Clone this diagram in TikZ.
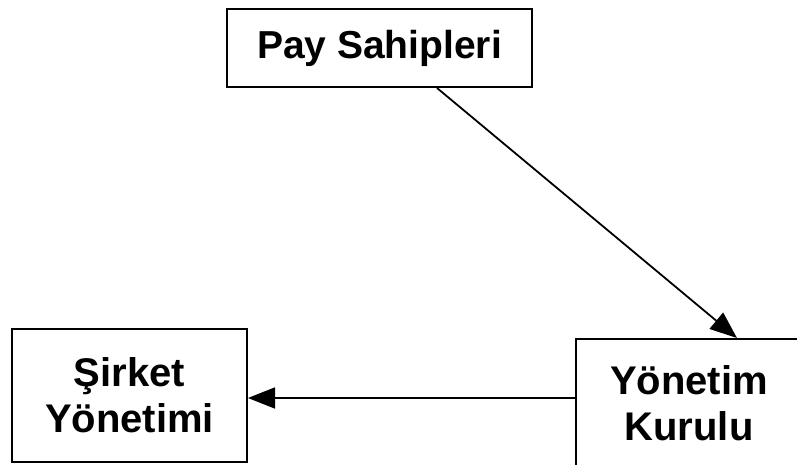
\documentclass[tikz,border=0pt]{standalone}
\usepackage{fontspec}
\setmainfont{Liberation Sans}
\usetikzlibrary{arrows.meta}
\begin{document}
\begin{tikzpicture}[x=1pt,y=1pt,
  bigfont/.style={font=\fontsize{40}{46}\selectfont\bfseries},
  box/.style={draw=black, line width=2pt, fill=white, rectangle, inner sep=0pt,
    align=center, bigfont},
  arr/.style={line width=1.8pt, -{Triangle[length=27pt,width=21pt]}}]
\useasboundingbox (0,0) rectangle (797,464);
\clip (0,0) rectangle (797,464);
\fill[white] (0,0) rectangle (797,464);
\node[box, minimum width=305pt, minimum height=78pt, font=\fontsize{39}{46}\selectfont\bfseries] (pay) at (379.5,416) {Pay Sahipleri};
\node[box, minimum width=235pt, minimum height=133pt] (sy) at (129.5,68.5) {Şirket\\Yönetimi};
\node[box, minimum width=226pt, minimum height=136pt,
  label={[bigfont, align=center, yshift=4pt]center:Yönetim\\Kurulu}] (yk) at (689,57) {};
\draw[arr] ([xshift=57.5pt]pay.south) -- ([xshift=48pt]yk.north);
\draw[arr] ([yshift=9pt]yk.west) -- ([yshift=-2.5pt]sy.east);
\end{tikzpicture}
\end{document}
